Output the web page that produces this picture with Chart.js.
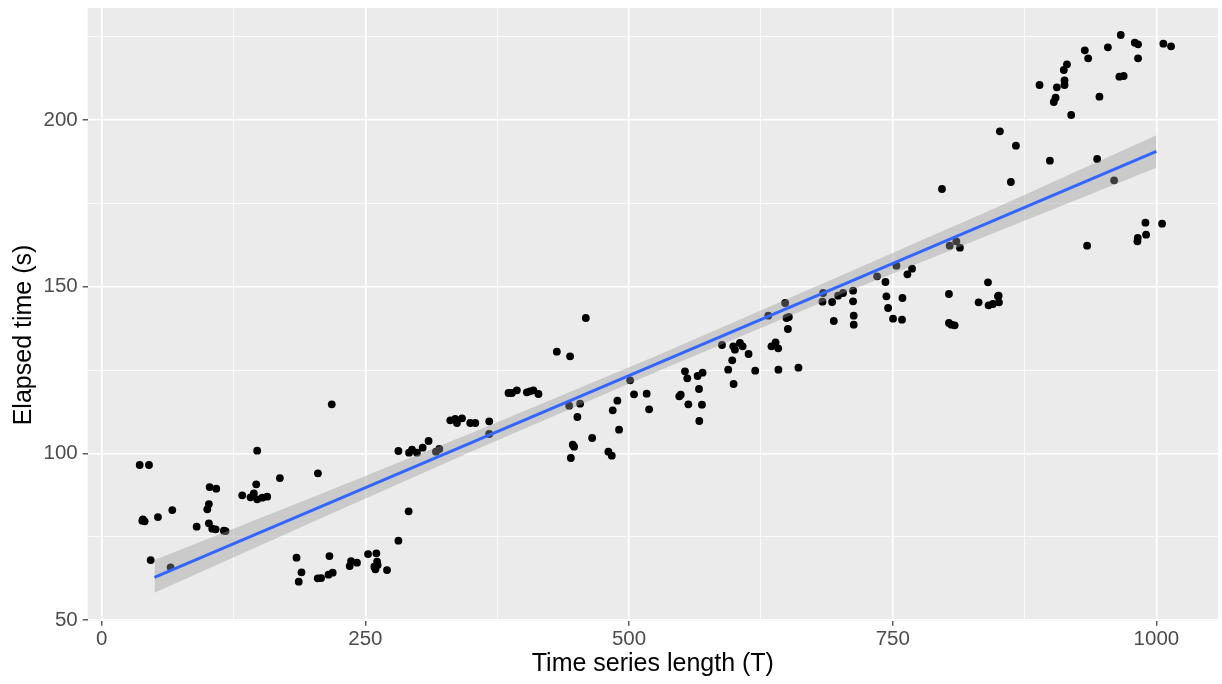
<!DOCTYPE html>
<html>
<head>
<meta charset="utf-8">
<title>Elapsed time vs series length</title>
<script src="https://cdn.jsdelivr.net/npm/chart.js@4.4.1/dist/chart.umd.min.js"></script>
<style>
  html, body { margin: 0; padding: 0; background: #fff; }
  canvas { display: block; }
</style>
</head>
<body>
<canvas id="timingChart" width="1222" height="684"></canvas>
<script>
// Measured runs: series length T and elapsed time in seconds
const seriesLength = [
    36, 44.8, 39.1, 40.7, 38.5, 46.4, 53.3, 65.3, 66.9, 90, 100.1, 101.6, 101.6, 104.8, 108, 102.3, 108.6, 115.8, 117.4, 133.2,
    141.1, 144.2, 147.4, 152.2, 156.9, 146.5, 147.4, 168.9, 205, 218.1,
    184.7, 189.4, 186.8, 204.8, 208, 215.9, 215, 219, 235.1, 236.4, 242, 252.5, 260.4, 261.1, 258.5, 259.5, 261.6, 270.5, 281.3, 291,
    281.3, 291.4, 294.2, 298.9, 304.3, 309.9, 316.9, 320.1, 330.5, 335.2, 336.8, 341.6, 349.4, 354.2, 367.4, 367.4,
    385.7, 388.9, 393.6, 403.1, 406, 409.3, 414.1, 431.5, 444.1, 459,
    443.2, 453.6, 451, 488.9, 484.5, 490.5, 465, 446.6, 447.9, 444.8, 480.4, 483.6,
    501, 504.7, 516.7, 519, 547.6, 549, 553, 555.2, 556.2, 565, 569.7, 566.3, 569.1, 566.6,
    588.1, 598.8, 600.4, 605.1, 607.7, 613.3, 597.8, 594, 619.6, 599.1,
    632, 635, 638.9, 641.4, 641.6, 648, 649.3, 651.5, 650.6, 660.6,
    683.4, 684, 692.5, 694.1, 698.2, 702.9, 712.4, 712.4, 713, 713,
    735.2, 743.1, 744, 745.6, 750.3, 753.5, 758.8, 759.2, 763.9, 768.3,
    796.7, 803.3, 803.3, 805.6, 808.7, 804, 810.3, 813.7, 831.4, 840.3, 840.9, 845, 849.7, 850.4, 850.7, 851.6, 862, 866.8,
    889.2, 899, 902.7, 904.4, 905.6, 912.2, 912.9, 912.9, 915.2, 919.2, 932.1, 935.3, 934.3, 943.8, 946, 954, 959.9, 964.9, 966.2, 969,
    979.5, 982.6, 982.6, 982, 982.3, 989.6, 990.2, 1005.4, 1006.6, 1013.9
];
const elapsedTime = [
    96.5, 96.5, 80.2, 79.6, 79.8, 68.0, 80.9, 65.8, 83.0, 78.0, 83.2, 84.8, 79.0, 77.4, 77.2, 89.9, 89.4, 76.8, 76.7, 87.4,
    86.8, 88.0, 86.2, 86.7, 87.0, 90.7, 100.8, 92.6, 94.0, 114.7,
    68.7, 64.3, 61.5, 62.5, 62.6, 69.2, 63.6, 64.2, 66.2, 67.7, 67.2, 69.8, 70.0, 67.5, 66.0, 65.2, 66.5, 65.0, 73.8, 82.6,
    100.7, 100.2, 101.1, 100.2, 101.7, 103.7, 100.5, 101.3, 109.9, 110.3, 109.1, 110.5, 109.1, 109.1, 109.6, 105.8,
    118.1, 118.1, 118.9, 118.3, 118.6, 118.9, 117.8, 130.5, 129.1, 140.6,
    114.3, 114.9, 110.9, 115.8, 112.9, 107.1, 104.6, 102.6, 102.0, 98.6, 100.5, 99.3,
    121.9, 117.7, 117.9, 113.2, 117.1, 117.6, 124.6, 122.5, 114.7, 123.2, 124.2, 119.3, 114.6, 109.7,
    132.5, 132.1, 131.1, 133.1, 132.1, 129.8, 127.9, 125.1, 124.8, 120.8,
    141.3, 132.1, 133.3, 131.5, 125.1, 145.1, 140.6, 140.9, 137.3, 125.7,
    145.5, 148.1, 145.4, 139.7, 147.3, 148.1, 148.8, 145.6, 141.3, 138.6,
    153.1, 151.4, 147.1, 143.6, 140.4, 156.3, 140.1, 146.6, 153.7, 155.4,
    179.3, 147.8, 139.1, 138.6, 138.4, 162.3, 163.6, 161.7, 145.3, 151.3, 144.4, 144.8, 147.1, 147.3, 145.3, 196.6, 181.4, 192.3,
    210.5, 187.8, 205.4, 206.7, 209.8, 215.0, 211.9, 210.5, 216.7, 201.5, 220.9, 218.5, 162.3, 188.3, 207.0, 221.8, 181.9, 213.0, 225.5, 213.2,
    223.2, 222.7, 218.5, 163.6, 164.6, 169.2, 165.6, 168.9, 222.9, 222.1
];

// Linear fit and its confidence band
const fitLength = [50, 1000];
const fitTime = [62.8, 190.6];
const bandLength = [50, 200, 350, 525, 700, 850, 1000];
const bandLower = [58.2, 79.4, 100.5, 124.3, 147.6, 166.6, 185.7];
const bandUpper = [68.0, 86.8, 106.0, 129.1, 153.2, 174.0, 195.4];

// Axis breaks
const xMajorTicks = [0, 250, 500, 750, 1000];
const xMinorTicks = [125, 375, 625, 875];
const yMajorTicks = [50, 100, 150, 200];
const yMinorTicks = [75, 125, 175, 225];

const toPoints = (xs, ys) => xs.map((x, i) => ({ x: x, y: ys[i] }));
const allTicks = (major, minor) => major.concat(minor).sort((a, b) => a - b).map(v => ({ value: v }));

// grey panel behind the grid
const panelBackground = {
    id: 'panelBackground',
    beforeDraw(chart) {
        const { ctx, chartArea } = chart;
        ctx.save();
        ctx.fillStyle = '#EBEBEB';
        ctx.fillRect(chartArea.left, chartArea.top, chartArea.right - chartArea.left, chartArea.bottom - chartArea.top);
        ctx.restore();
    }
};

// vertical axis title
const yTitle = {
    id: 'yTitle',
    afterDraw(chart) {
        const ctx = chart.ctx;
        ctx.save();
        ctx.translate(24, 335);
        ctx.rotate(-Math.PI / 2);
        ctx.font = '25px "Liberation Sans", Arial, sans-serif';
        ctx.fillStyle = '#000000';
        ctx.textAlign = 'center';
        ctx.textBaseline = 'middle';
        ctx.fillText('Elapsed time (s)', 0, 0);
        ctx.restore();
    }
};

const tickFont = { family: '"Liberation Sans", Arial, sans-serif', size: 20.5 };

new Chart(document.getElementById('timingChart').getContext('2d'), {
    type: 'scatter',
    data: {
        datasets: [
            {
                type: 'line',
                data: toPoints(fitLength, fitTime),
                borderColor: '#3366FF',
                borderWidth: 3,
                pointRadius: 0,
                fill: false,
                order: 0
            },
            {
                type: 'line',
                data: toPoints(bandLength, bandUpper),
                borderColor: 'transparent',
                borderWidth: 0,
                pointRadius: 0,
                backgroundColor: 'rgba(153, 153, 153, 0.4)',
                fill: '+1',
                order: 1
            },
            {
                type: 'line',
                data: toPoints(bandLength, bandLower),
                borderColor: 'transparent',
                borderWidth: 0,
                pointRadius: 0,
                fill: false,
                order: 2
            },
            {
                data: toPoints(seriesLength, elapsedTime),
                backgroundColor: '#000000',
                borderWidth: 0,
                pointRadius: 3.9,
                order: 3
            }
        ]
    },
    options: {
        responsive: false,
        animation: false,
        devicePixelRatio: 1,
        layout: { padding: { top: 8, left: 0, right: 0, bottom: 0 } },
        plugins: {
            legend: { display: false },
            tooltip: { enabled: false }
        },
        scales: {
            x: {
                type: 'linear',
                min: -13.3,
                max: 1058.4,
                afterBuildTicks: axis => { axis.ticks = allTicks(xMajorTicks, xMinorTicks); },
                afterFit: axis => {
                    axis.height = 63.3;
                    axis.paddingLeft = 0;
                    axis.paddingRight = 0;
                },
                border: { display: false },
                grid: {
                    color: '#FFFFFF',
                    lineWidth: c => xMajorTicks.includes(c.tick.value) ? 1.6 : 0.8,
                    tickColor: c => xMajorTicks.includes(c.tick.value) ? '#333333' : 'rgba(0,0,0,0)',
                    tickLength: 5,
                    tickWidth: 1.2
                },
                ticks: {
                    autoSkip: false,
                    maxRotation: 0,
                    padding: 1,
                    color: '#4D4D4D',
                    font: tickFont,
                    callback: v => xMajorTicks.includes(v) ? String(v) : ''
                },
                title: {
                    display: true,
                    text: 'Time series length (T)',
                    color: '#000000',
                    font: { family: '"Liberation Sans", Arial, sans-serif', size: 25 },
                    padding: { top: 0, bottom: 5 }
                }
            },
            y: {
                type: 'linear',
                min: 49.8,
                max: 233.6,
                afterBuildTicks: axis => { axis.ticks = allTicks(yMajorTicks, yMinorTicks); },
                afterFit: axis => {
                    axis.width = 87.7;
                    axis.paddingTop = 0;
                    axis.paddingBottom = 0;
                },
                border: { display: false },
                grid: {
                    color: '#FFFFFF',
                    lineWidth: c => yMajorTicks.includes(c.tick.value) ? 1.6 : 0.8,
                    tickColor: c => yMajorTicks.includes(c.tick.value) ? '#333333' : 'rgba(0,0,0,0)',
                    tickLength: 5,
                    tickWidth: 1.2
                },
                ticks: {
                    autoSkip: false,
                    padding: 5,
                    color: '#4D4D4D',
                    font: tickFont,
                    callback: v => yMajorTicks.includes(v) ? String(v) : ''
                }
            }
        }
    },
    plugins: [panelBackground, yTitle]
});
</script>
</body>
</html>
